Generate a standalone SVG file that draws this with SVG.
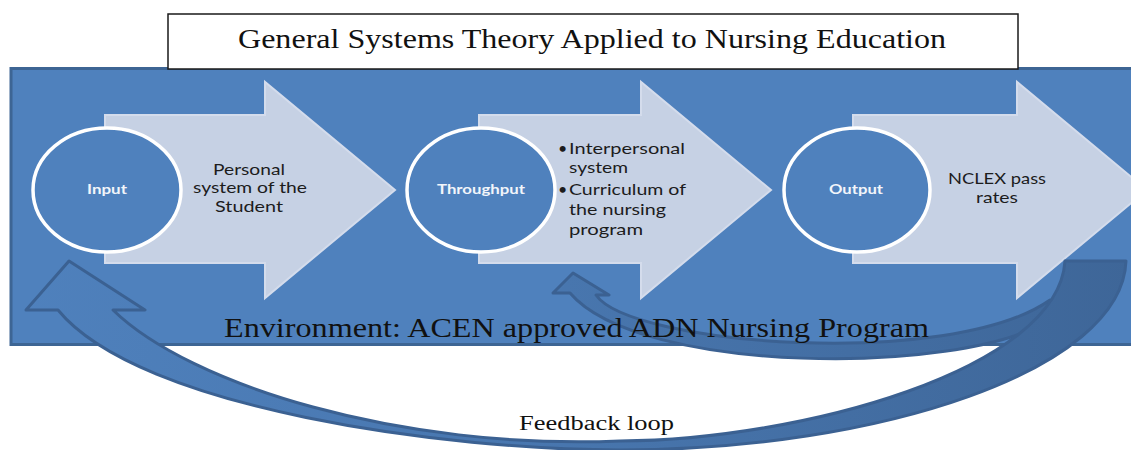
<svg xmlns="http://www.w3.org/2000/svg" width="1131" height="450" viewBox="0 0 1131 450">
  <defs>
    <linearGradient id="loopFill" gradientUnits="userSpaceOnUse" x1="0" y1="0" x2="1131" y2="0">
      <stop offset="0" stop-color="#4F81BD"/>
      <stop offset="0.5" stop-color="#4876AE"/>
      <stop offset="1" stop-color="#3E6698"/>
    </linearGradient>
  </defs>
  <style>
    .env { fill: #4F81BD; stroke: #3D6594; stroke-width: 3; }
    .titlebox { fill: #ffffff; stroke: #1a1a1a; stroke-width: 1.5; }
    .serif { font-family: "Liberation Serif", "Times New Roman", serif; fill: #111111; }
    .chevron { fill: #C6D1E4; stroke: #D4DCEC; stroke-width: 2; stroke-linejoin: miter; }
    .stage { fill: #4F81BD; stroke: #ffffff; stroke-width: 3.5; }
    .stage-label { font-family: Lato, "Open Sans", sans-serif; font-weight: bold; font-size: 13px; fill: #F2F5FA; text-anchor: middle; }
    .desc { font-family: Lato, "Open Sans", sans-serif; font-size: 16px; fill: #1c1c1c; }
    .loop { fill: url(#loopFill); stroke: #3B6192; stroke-width: 3; stroke-linejoin: round; }
  </style>

  <!-- environment boundary -->
  <g id="environment">
    <rect class="env" x="11" y="68.5" width="1130" height="276"/>
  </g>

  <!-- title banner -->
  <g id="title">
    <rect class="titlebox" x="168" y="14" width="850" height="55"/>
    <text class="serif" x="238" y="48" font-size="27" textLength="708" lengthAdjust="spacingAndGlyphs">General Systems Theory Applied to Nursing Education</text>
  </g>

  <!-- stage: input -->
  <g id="input">
    <polygon class="chevron" points="105,115 265,115 265,82 395,190 265,298 265,263 105,263"/>
    <ellipse class="stage" cx="107" cy="190" rx="74" ry="62"/>
    <text class="stage-label" x="107" y="194" textLength="40" lengthAdjust="spacingAndGlyphs">Input</text>
    <text class="desc" x="213" y="175" textLength="72" lengthAdjust="spacingAndGlyphs">Personal</text>
    <text class="desc" x="193" y="193" textLength="114" lengthAdjust="spacingAndGlyphs">system of the</text>
    <text class="desc" x="215" y="212" textLength="68" lengthAdjust="spacingAndGlyphs">Student</text>
  </g>

  <!-- stage: throughput -->
  <g id="throughput">
    <polygon class="chevron" points="479,115 641,115 641,82 771,190 641,298 641,263 479,263"/>
    <ellipse class="stage" cx="481" cy="190" rx="74" ry="62"/>
    <text class="stage-label" x="481" y="194" textLength="88" lengthAdjust="spacingAndGlyphs">Throughput</text>
    <text class="desc" x="558" y="154" font-size="12">•</text>
    <text class="desc" x="569" y="154" textLength="116" lengthAdjust="spacingAndGlyphs">Interpersonal</text>
    <text class="desc" x="569" y="173" textLength="59" lengthAdjust="spacingAndGlyphs">system</text>
    <text class="desc" x="558" y="195" font-size="12">•</text>
    <text class="desc" x="569" y="195" textLength="117" lengthAdjust="spacingAndGlyphs">Curriculum of</text>
    <text class="desc" x="569" y="215" textLength="97" lengthAdjust="spacingAndGlyphs">the nursing</text>
    <text class="desc" x="569" y="235" textLength="74" lengthAdjust="spacingAndGlyphs">program</text>
  </g>

  <!-- stage: output -->
  <g id="output">
    <polygon class="chevron" points="853,115 1017,115 1017,82 1147,190 1017,298 1017,263 853,263"/>
    <ellipse class="stage" cx="857" cy="190" rx="73" ry="62"/>
    <text class="stage-label" x="856" y="194" textLength="54" lengthAdjust="spacingAndGlyphs">Output</text>
    <text class="desc" x="948" y="184" textLength="98" lengthAdjust="spacingAndGlyphs">NCLEX pass</text>
    <text class="desc" x="976" y="203" textLength="42" lengthAdjust="spacingAndGlyphs">rates</text>
  </g>

  <!-- feedback connectors -->
  <g id="connectors">
    <!-- inner loop: output back to throughput -->
    <path class="loop" d="M573,273 L609,295 L596,295 C630,345 950,370 1050,300 L1045,322 C960,375 640,375 570,293 L553,293 Z"/>
    <!-- outer loop: output back to input -->
    <path class="loop" d="M69,261 L145,310 L113,310 C190,385 400,450 620,441 C800,440 1058,370 1065,261 L1126,261 C1122,370 880,450 620,450 C450,450 140,410 58,310 L26,310 Z"/>
  </g>

  <g id="environment-label">
    <text class="serif" x="224" y="337" font-size="27" textLength="705" lengthAdjust="spacingAndGlyphs">Environment: ACEN approved ADN Nursing Program</text>
  </g>

  <g id="feedback-label">
    <text class="serif" x="519" y="430" font-size="20" textLength="155" lengthAdjust="spacingAndGlyphs">Feedback loop</text>
  </g>
</svg>
